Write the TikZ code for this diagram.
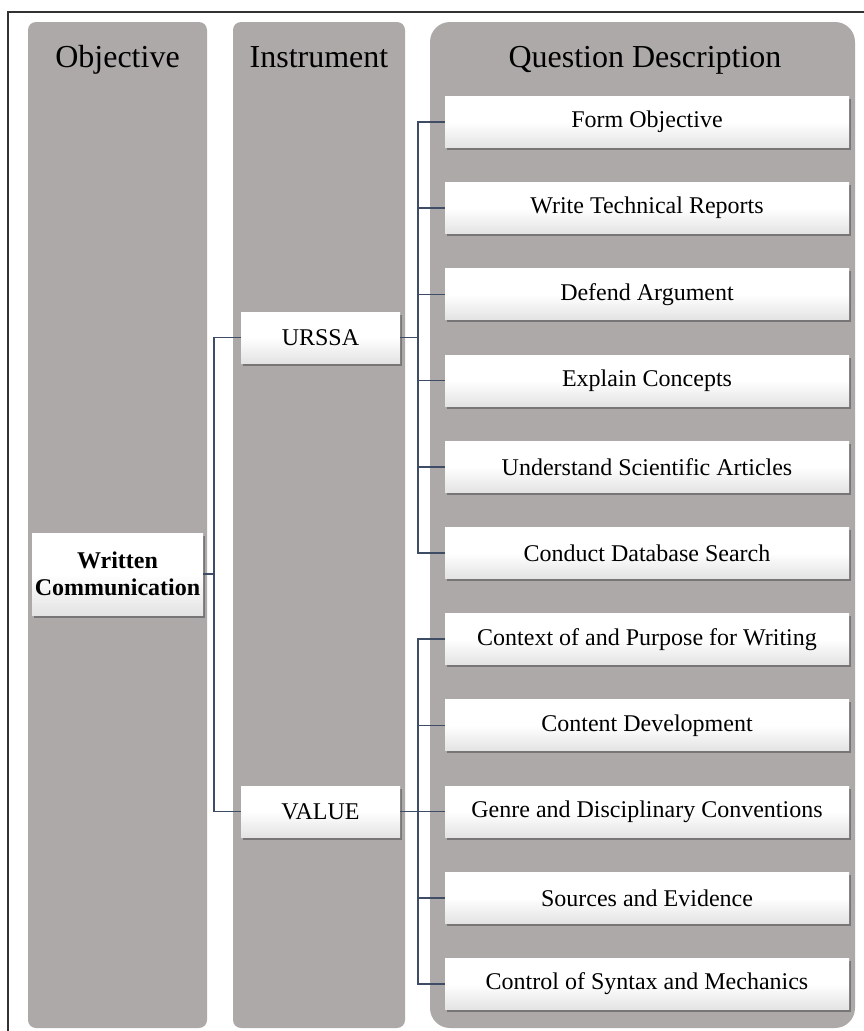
\documentclass[tikz,border=0pt]{standalone}
\usepackage{fontspec}
\setmainfont{Liberation Serif}
\usetikzlibrary{shadows}
\definecolor{colgray}{RGB}{173,169,168}
\definecolor{conn}{RGB}{62,76,102}
\definecolor{frame}{RGB}{50,50,50}
\tikzset{
  colbox/.style={fill=colgray, draw=none},
  hdr/.style={font=\fontsize{32}{38}\selectfont, anchor=base, inner sep=0pt},
  itembox/.style={draw=none, top color=white, bottom color=black!11, middle color=white,
    shading angle=0, minimum height=51pt, inner sep=0pt,
    font=\fontsize{24}{27}\selectfont,
    drop shadow={shadow xshift=1.5pt, shadow yshift=-2.5pt, fill=black!70, opacity=0.55}},
  qbox/.style={itembox, minimum width=404pt},
  ibox/.style={itembox, minimum width=159pt},
  link/.style={draw=conn, line width=1.5pt},
}
\begin{document}
\begin{tikzpicture}[x=1pt,y=-1pt]
\useasboundingbox (0,0) rectangle (864,1031);
\clip (0,0) rectangle (864,1031);
\draw[frame, line width=1.5pt] (8,12) rectangle (900,1060);
% columns
\fill[colbox, rounded corners=8pt] (28,22) rectangle (207,1028);
\fill[colbox, rounded corners=8pt] (233,22) rectangle (405,1028);
\fill[colbox, rounded corners=20pt] (430,22) rectangle (855,1028);
\node[hdr] (h1) at (117.5,67) {Objective};
\node[hdr] (h2) at (319,67) {Instrument};
\node[hdr] (h3) at (645,67) {Question Description};
% objective
\node[itembox, minimum width=171pt, minimum height=82pt, align=center,
  font=\fontsize{24}{26.5}\selectfont\bfseries] (wc) at (117.5,574) {Written\\Communication};
% instruments
\node[ibox] (urssa) at (320.5,337.5) {URSSA};
\node[ibox] (value) at (320.5,811.5) {VALUE};
% questions
\node[qbox] (q1) at (647,122) {Form Objective};
\node[qbox] (q2) at (647,208.2) {Write Technical Reports};
\node[qbox] (q3) at (647,294.4) {Defend Argument};
\node[qbox] (q4) at (647,380.6) {Explain Concepts};
\node[qbox] (q5) at (647,466.8) {Understand Scientific Articles};
\node[qbox] (q6) at (647,553) {Conduct Database Search};
\node[qbox] (q7) at (647,639.2) {Context of and Purpose for Writing};
\node[qbox] (q8) at (647,725.4) {Content Development};
\node[qbox] (q9) at (647,811.6) {Genre and Disciplinary Conventions};
\node[qbox] (q10) at (647,897.8) {Sources and Evidence};
\node[qbox] (q11) at (647,984) {Control of Syntax and Mechanics};
% connectors
\coordinate (j1) at (214,574);
\coordinate (j2) at (418,337.5);
\coordinate (j3) at (418,811.5);
\draw[link] (wc.east) -- (j1);
\draw[link] (j1) |- (urssa.west);
\draw[link] (j1) |- (value.west);
\draw[link] (urssa.east) -- (j2);
\draw[link] (value.east) -- (j3);
\foreach \q in {q1,q2,q3,q4,q5,q6} \draw[link] (j2) |- (\q.west);
\foreach \q in {q7,q8,q9,q10,q11} \draw[link] (j3) |- (\q.west);
\end{tikzpicture}
\end{document}
